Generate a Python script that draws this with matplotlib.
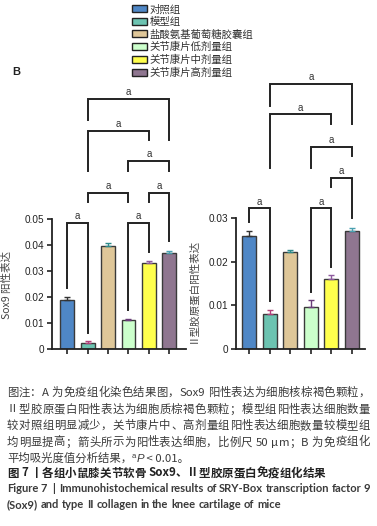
import matplotlib
matplotlib.use('Agg')
import matplotlib.pyplot as plt
from matplotlib.patches import Patch

# ---------------- data ----------------
groups = ['对照组', '模型组', '盐酸氨基葡萄糖胶囊组', '关节康片低剂量组',
          '关节康片中剂量组', '关节康片高剂量组']
colors = ['#4f87c6', '#6cc3b1', '#dfc799', '#ccffcc', '#ffff4d', '#8f7690']
err_colors = ['#333333', '#b0407a', '#2e8b8b', '#6a3d7a', '#8e5a9e', '#4aa0b0']

sox9_mean = [0.0190, 0.0025, 0.0398, 0.0113, 0.0332, 0.0371]
sox9_err = [0.0010, 0.0004, 0.0010, 0.0004, 0.0005, 0.0005]
col2_mean = [0.0260, 0.0080, 0.0222, 0.0097, 0.0160, 0.0272]
col2_err = [0.0010, 0.0010, 0.0006, 0.0015, 0.0010, 0.0006]

sox9_ticks = [0, 0.01, 0.02, 0.03, 0.04, 0.05]
sox9_ticklabels = ['0', '0.01', '0.02', '0.03', '0.04', '0.05']
col2_ticks = [0, 0.01, 0.02, 0.03]
col2_ticklabels = ['0', '0.01', '0.02', '0.03']

sox9_label = 'Sox9 阳性表达'
col2_label = 'Ⅱ型胶原蛋白阳性表达'
sig_label = 'a'

# significance brackets: (left bar, right bar, bracket top, left leg end, right leg end)
sox9_brackets = [
    (1, 5, 0.0961, 0.0879, 0.0804),
    (1, 4, 0.0840, 0.0686, 0.0804),
    (3, 5, 0.0725, 0.0686, 0.0686),
    (1, 3, 0.0601, 0.0567, 0.0567),
    (4, 5, 0.0601, 0.0567, 0.0417),
    (0, 1, 0.0484, 0.0235, 0.0062),
    (3, 4, 0.0484, 0.0150, 0.0374),
]
col2_brackets = [
    (1, 5, 0.0608, 0.0558, 0.0516),
    (1, 4, 0.0539, 0.0415, 0.0516),
    (3, 5, 0.0464, 0.0415, 0.0443),
    (4, 5, 0.0393, 0.0371, 0.0301),
    (0, 1, 0.0323, 0.0292, 0.0111),
    (3, 4, 0.0323, 0.0132, 0.0188),
]

caption_lines = [
    '图注：A 为免疫组化染色结果图，Sox9 阳性表达为细胞核棕褐色颗粒，',
    'Ⅱ型胶原蛋白阳性表达为细胞质棕褐色颗粒；模型组阳性表达细胞数量',
    '较对照组明显减少，关节康片中、高剂量组阳性表达细胞数量较模型组',
    '均明显提高；箭头所示为阳性表达细胞，比例尺 50 μm；B 为免疫组化',
]
caption_last = ['平均吸光度值分析结果，', 'a', 'P', ' < 0.01。']
title_cn = '图 7 丨各组小鼠膝关节软骨 Sox9、Ⅱ型胶原蛋白免疫组化结果'
title_en = ['Figure 7  |  Immunohistochemical results of SRY-Box transcription factor 9',
            '(Sox9) and type II collagen in the knee cartilage of mice']

# ---------------- figure ----------------
W, H = 377, 526
fig = plt.figure(figsize=(W / 100, H / 100), dpi=100)
CJK = ['Noto Sans CJK SC', 'DejaVu Sans']
plt.rcParams['font.family'] = ['Liberation Sans', 'Noto Sans CJK SC', 'DejaVu Sans']


def px_axes(x0, y0_bottom, w, h):
    return fig.add_axes([x0 / W, 1 - y0_bottom / H, w / W, h / H])


def draw_panel(ax, means, errs, ticks, ticklabels, brackets, ylabel, label_y):
    x = list(range(len(means)))
    ax.bar(x, means, width=0.68, color=colors, edgecolor='#3a3a3a', linewidth=1.0, zorder=2)
    for i in x:
        ax.errorbar(i, means[i], yerr=[[0], [errs[i]]], ecolor=err_colors[i],
                    elinewidth=1.0, capsize=2.5, capthick=1.0, fmt='none', zorder=3)
    for (i, j, top, l_end, r_end) in brackets:
        ax.plot([i, i, j, j], [l_end, top, top, r_end], color='#222222', lw=1.4,
                solid_joinstyle='miter', clip_on=False, zorder=1)
        ax.annotate(sig_label, xy=((i + j) / 2, top), xytext=(0, 1.2),
                    textcoords='offset points', ha='center', va='bottom',
                    fontsize=7, color='#333333', family='Liberation Sans')
    for s in ['top', 'right']:
        ax.spines[s].set_visible(False)
    for s in ['left', 'bottom']:
        ax.spines[s].set_linewidth(1.3)
        ax.spines[s].set_color('#222222')
    ax.spines['left'].set_bounds(0, ticks[-1])
    ax.set_yticks(ticks)
    ax.set_yticklabels(ticklabels, fontsize=7.2, color='#222222')
    ax.set_xticks(x)
    ax.set_xticklabels([])
    ax.tick_params(axis='both', direction='out', length=3.8, width=1.2, color='#222222', pad=1.5)
    ax.set_ylabel(ylabel, family=CJK, fontsize=7.6, color='#444444')
    ax.yaxis.set_label_coords(-0.30, label_y)
    ax.patch.set_alpha(0)


ax1 = px_axes(52, 349, 133.6, 260)
ax1.set_xlim(-0.75, 5.8)
ax1.set_ylim(0, 0.1)
draw_panel(ax1, sox9_mean, sox9_err, sox9_ticks, sox9_ticklabels, sox9_brackets, sox9_label, 0.246)

ax2 = px_axes(236, 349, 129.2, 287.5)
ax2.set_xlim(-0.65, 5.65)
ax2.set_ylim(0, 0.066)
draw_panel(ax2, col2_mean, col2_err, col2_ticks, col2_ticklabels, col2_brackets, col2_label, 0.205)

# legend
handles = [Patch(facecolor=c, edgecolor='#222222', linewidth=1.0) for c in colors]
fig.legend(handles, groups, loc='upper left', bbox_to_anchor=(132 / W, 1 - 4 / H),
           frameon=False, prop={'family': CJK, 'size': 7.5}, labelcolor='#333333',
           handlelength=1.4, handleheight=0.65, handletextpad=0.3, labelspacing=0.24,
           borderpad=0, borderaxespad=0)

fig.text(12 / W, 1 - 72 / H, 'B', fontsize=8, fontweight='bold', color='#222222',
         ha='left', va='center', family='Liberation Sans')

# ---------------- caption ----------------
renderer = fig.canvas.get_renderer()


def measure(s, props):
    t = fig.text(0, 0, s, **props)
    w = t.get_window_extent(renderer).width
    t.remove()
    return w


def tokenize(s):
    toks = []
    buf = ''
    for ch in s:
        if ch == ' ':
            if buf:
                toks.append(buf)
                buf = ''
            toks.append(' ')
        elif ord(ch) < 128:
            buf += ch
        else:
            if buf:
                toks.append(buf)
                buf = ''
            toks.append(ch)
    if buf:
        toks.append(buf)
    return toks


def draw_justified(s, baseline_px, x0, x1, props, mode='all'):
    toks = tokenize(s)
    sp = measure('x x', props) - measure('xx', props)
    widths = [sp if t == ' ' else measure(t, props) for t in toks]
    total = sum(widths)
    if x1 is None:
        extra = 0
    elif mode == 'all':
        extra = (x1 - x0 - total) / max(len(toks) - 1, 1)
    else:
        nsp = sum(1 for t in toks if t == ' ')
        extra = (x1 - x0 - total) / max(nsp, 1)
    x = x0
    for t, w in zip(toks, widths):
        if t != ' ':
            fig.text(x / W, 1 - baseline_px / H, t, ha='left', va='baseline', **props)
        if mode == 'all':
            x += w + extra
        else:
            x += w + (extra if t == ' ' else 0)


cap_props = dict(family=CJK, fontsize=8.2, color='#3a3a3a')
baselines = [396, 412.5, 429, 445.5]
for line, b in zip(caption_lines, baselines):
    draw_justified(line, b, 7, 370, cap_props)

# last paragraph line with superscript and italic
x = 7
b5 = 462
runs = [
    (caption_last[0], dict(family=CJK, fontsize=8.2, color='#3a3a3a'), 0),
    (caption_last[1], dict(family='Liberation Sans', fontsize=5.5, color='#3a3a3a'), 4),
    (caption_last[2], dict(family='Liberation Sans', fontsize=8.2, style='italic', color='#3a3a3a'), 0),
    (caption_last[3], dict(family=CJK, fontsize=8.2, color='#3a3a3a'), 0),
]
for s, p, dy in runs:
    t = fig.text(x / W, 1 - (b5 - dy) / H, s, ha='left', va='baseline', **p)
    x += t.get_window_extent(renderer).width + (0.5 if s == 'a' else 0)

draw_justified(title_cn, 476.5, 7, None, dict(family=CJK, fontsize=8.3, fontweight='bold', color='#222222'))

en_props = dict(family=['Lato', 'DejaVu Sans'], fontsize=8.0, fontweight='bold', color='#3a3a3a')
draw_justified(title_en[0], 491.5, 7, 370, en_props, mode='space')
draw_justified(title_en[1], 508, 7, None, en_props, mode='space')

fig.savefig('out.png', dpi=100)
